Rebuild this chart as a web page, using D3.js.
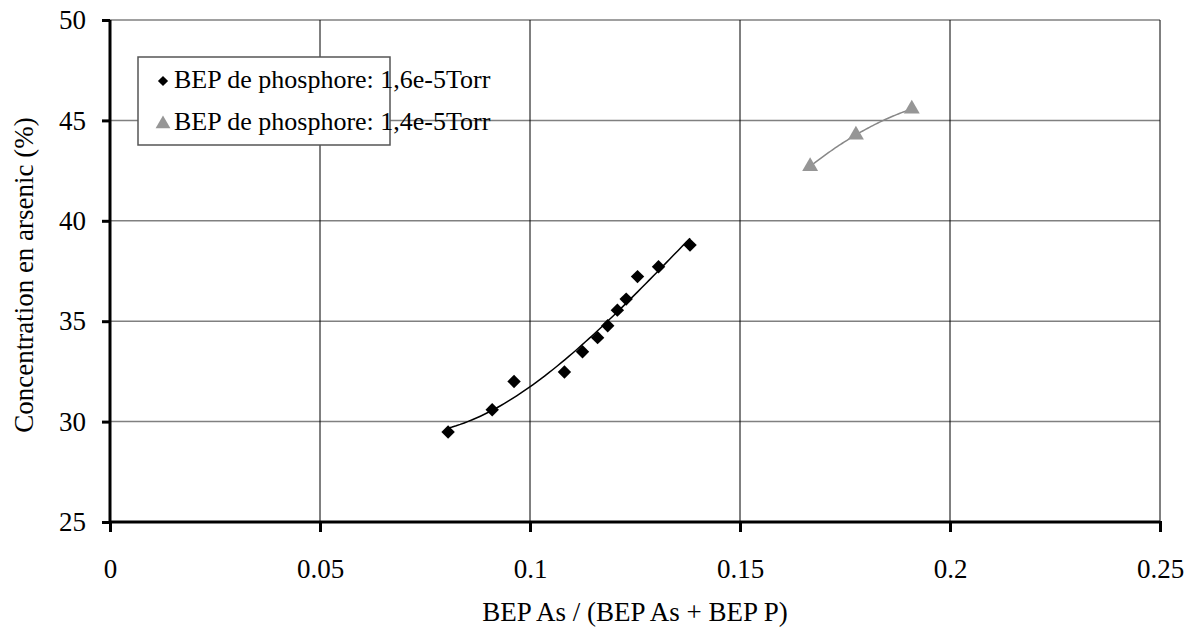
<!DOCTYPE html>
<html>
<head>
<meta charset="utf-8">
<script src="https://cdn.jsdelivr.net/npm/d3@7"></script>
<style>
  body { margin: 0; background: #fff; }
  #viz text { font-family: 'Liberation Serif', 'Tinos', 'Times New Roman', Times, 'Noto Serif', 'DejaVu Serif', serif; }
</style>
</head>
<body>
<svg id="viz" width="1194" height="630"></svg>
<script>
// series 1 : BEP phosphore 1,6e-5 Torr
var xs1 = [0.0805, 0.0910, 0.0962, 0.1082, 0.1125, 0.1161, 0.1185, 0.1208, 0.1229, 0.1256, 0.1306, 0.1381];
var ys1 = [29.48, 30.59, 32.0, 32.47, 33.48, 34.18, 34.77, 35.55, 36.1, 37.22, 37.71, 38.79];
// series 2 : BEP phosphore 1,4e-5 Torr
var xs2 = [0.1667, 0.1776, 0.1909];
var ys2 = [42.71, 44.28, 45.57];

var seriesNames = ["BEP de phosphore: 1,6e-5Torr", "BEP de phosphore: 1,4e-5Torr"];
var xTicks = [0, 0.05, 0.1, 0.15, 0.2, 0.25];
var yTicks = [25, 30, 35, 40, 45, 50];

var svg = d3.select("#viz");
var x = d3.scaleLinear().domain([0, 0.25]).range([110, 1160]);
var y = d3.scaleLinear().domain([25, 50]).range([522, 20]);

// grid
svg.append("g").selectAll("line").data(yTicks.slice(1)).enter().append("line")
  .attr("x1", x(0)).attr("x2", x(0.25))
  .attr("y1", function(d) { return y(d); }).attr("y2", function(d) { return y(d); })
  .attr("stroke", "#808080").attr("stroke-width", 1.5);
svg.append("g").selectAll("line").data(xTicks.slice(1)).enter().append("line")
  .attr("y1", y(25)).attr("y2", y(50))
  .attr("x1", function(d) { return x(d); }).attr("x2", function(d) { return x(d); })
  .attr("stroke", "#000").attr("stroke-width", 1);

// least squares polynomial trend
function polyfit(xs, ys, deg) {
  var m = deg + 1, A = [];
  for (var r = 0; r < m; r++) {
    A.push([]);
    for (var c = 0; c <= m; c++) A[r].push(0);
  }
  xs.forEach(function(xv, i) {
    for (var r = 0; r < m; r++) {
      for (var c = 0; c < m; c++) A[r][c] += Math.pow(xv, r + c);
      A[r][m] += ys[i] * Math.pow(xv, r);
    }
  });
  for (var c = 0; c < m; c++) {
    for (var r = c + 1; r < m; r++) {
      var f = A[r][c] / A[c][c];
      for (var j = c; j <= m; j++) A[r][j] -= f * A[c][j];
    }
  }
  var b = [];
  for (var r = m - 1; r >= 0; r--) {
    var s = A[r][m];
    for (var j = r + 1; j < m; j++) s -= A[r][j] * b[j];
    b[r] = s / A[r][r];
  }
  return function(v) { return d3.sum(b, function(bk, k) { return bk * Math.pow(v, k); }); };
}

function trend(xs, ys, deg, color) {
  var f = polyfit(xs, ys, deg);
  var lo = d3.min(xs), hi = d3.max(xs);
  var pts = d3.range(0, 61).map(function(i) { var v = lo + (hi - lo) * i / 60; return [v, f(v)]; });
  svg.append("path").datum(pts)
    .attr("d", d3.line().x(function(d) { return x(d[0]); }).y(function(d) { return y(d[1]); }))
    .attr("fill", "none").attr("stroke", color).attr("stroke-width", 1.5);
}
trend(xs1, ys1, 3, "#000");
trend(xs2, ys2, 2, "#888");

// markers
var diamond = d3.symbol().type(d3.symbolSquare).size(90);
svg.append("g").selectAll("path").data(d3.range(xs1.length)).enter().append("path")
  .attr("d", diamond)
  .attr("transform", function(i) { return "translate(" + x(xs1[i]) + "," + y(ys1[i]) + ") rotate(45)"; })
  .attr("fill", "#000");
var tri = d3.symbol().type(d3.symbolTriangle).size(110);
svg.append("g").selectAll("path").data(d3.range(xs2.length)).enter().append("path")
  .attr("d", tri)
  .attr("transform", function(i) { return "translate(" + x(xs2[i]) + "," + y(ys2[i]) + ")"; })
  .attr("fill", "#969696");

// axes
var xAxis = svg.append("g").attr("transform", "translate(0," + y(25) + ")")
  .call(d3.axisBottom(x).tickValues(xTicks).tickSize(10).tickPadding(27).tickFormat(function(d) { return d === 0 ? "0" : String(d); }));
var yAxis = svg.append("g").attr("transform", "translate(" + x(0) + ",0)")
  .call(d3.axisLeft(y).tickValues(yTicks).tickSize(8).tickPadding(16));
[xAxis, yAxis].forEach(function(a) {
  a.attr("font-family", null).attr("font-size", null);
  a.select(".domain").attr("stroke", "#000").attr("stroke-width", 3);
  a.selectAll(".tick line").attr("stroke", "#000").attr("stroke-width", 3);
  a.selectAll(".tick text").attr("font-size", 27).attr("fill", "#000");
});
xAxis.selectAll(".tick line").attr("y1", -1);
xAxis.select(".domain").attr("d", "M" + x(0) + ",0H" + x(0.25));
yAxis.select(".domain").attr("d", "M0," + y(25) + "V" + y(50));

// axis titles
svg.append("text").attr("x", x(0.125)).attr("y", 621).attr("text-anchor", "middle")
  .attr("font-size", 27).text("BEP As / (BEP As + BEP P)");
svg.append("text").attr("transform", "translate(33," + y(37.3) + ") rotate(-90)")
  .attr("text-anchor", "middle").attr("font-size", 27)
  .text("Concentration en arsenic (%)");

// legend
var lg = svg.append("g");
lg.append("rect").attr("x", 138).attr("y", 57).attr("width", 252).attr("height", 88)
  .attr("fill", "#fff").attr("stroke", "#555").attr("stroke-width", 1.5);
lg.append("path").attr("d", d3.symbol().type(d3.symbolSquare).size(52))
  .attr("transform", "translate(163,81) rotate(45)").attr("fill", "#000");
lg.append("path").attr("d", d3.symbol().type(d3.symbolTriangle).size(95))
  .attr("transform", "translate(163,124)").attr("fill", "#969696");
lg.selectAll("text").data(seriesNames).enter().append("text")
  .attr("x", 174).attr("y", function(d, i) { return 88 + i * 42; })
  .attr("font-size", 26).text(function(d) { return d; });
</script>
</body>
</html>
